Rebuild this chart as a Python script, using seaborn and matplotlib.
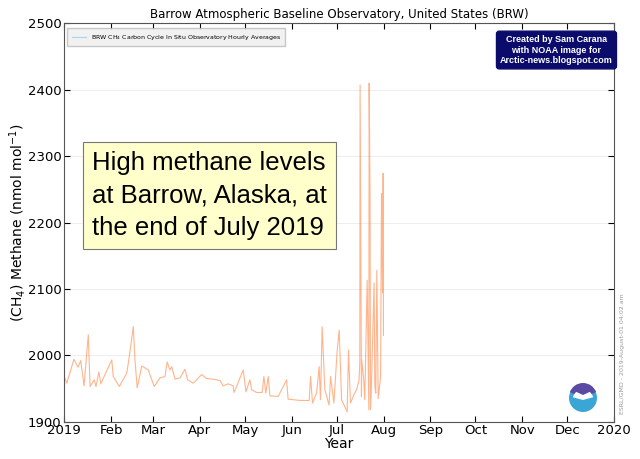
import pandas as pd
import matplotlib
matplotlib.use("Agg")
import matplotlib.pyplot as plt
import matplotlib.dates as mdates
from matplotlib.patches import Circle, Wedge
import seaborn as sns

# Days since 2019-01-01 and CH4 values (nmol/mol)
day_offsets = [
    0, 1.6, 6.4, 9.1, 10.9, 13.1, 15.9, 17.1, 19.9, 21, 23, 24.2,
    31.5, 32.5, 36.5, 41.4, 42.5, 45.8, 46.9, 48.4, 51.4, 55.7, 59.7,
    63.5, 66.8, 68.3, 70.1, 71.3, 73.5, 76.8, 80.1, 81.9, 85.6, 91.2,
    94.5, 99, 103.4, 105.5, 108.8, 112.1, 112.6, 114.4, 118.8, 120.6,
    123.2, 124.4, 127.7, 131.4, 132.5, 133.8, 135.4, 136.5, 142, 147.6,
    148.6, 156.4, 162.6, 163.5, 164.8, 167.5, 169.2, 170.1, 171.2, 173,
    175.8, 176.8, 179, 181.2, 182.5, 184.1, 187.8, 188.7, 190, 192.2,
    194, 195.7, 196.2, 196.4, 197.3, 197.5, 198.8, 199.5, 201.1, 202.2,
    202.4, 203, 203.3, 203.9, 205.7, 206.2, 206.8, 207.5, 208.4, 210,
    210.6, 211.3, 211.7, 211.9,
]
ch4_values = [
    1968, 1958, 1994, 1982, 1992, 1954, 2031, 1953, 1963, 1953, 1975, 1957,
    1993, 1968, 1953, 1973, 1988, 2043, 1993, 1951, 1984, 1978, 1953,
    1966, 1968, 1990, 1978, 1983, 1964, 1966, 1979, 1963, 1958, 1971,
    1965, 1964, 1962, 1954, 1957, 1954, 1944, 1953, 1978, 1945,
    1963, 1948, 1944, 1944, 1968, 1943, 1968, 1939, 1938, 1963,
    1934, 1932, 1932, 1968, 1928, 1943, 1983, 1933, 2043, 1948,
    1925, 1968, 1928, 2008, 2038, 1933, 1915, 2008, 1928, 1940,
    1948, 1963, 1988, 2407, 1938, 1993, 1963, 1933, 2113, 1918,
    2410, 2239, 1918, 1953, 2109, 1953, 1943, 2128, 1935, 1968,
    2244, 2094, 2274, 2030,
]

y_ticks = [1900, 2000, 2100, 2200, 2300, 2400, 2500]

df = pd.DataFrame({
    "date": pd.Timestamp("2019-01-01") + pd.to_timedelta(day_offsets, unit="D"),
    "ch4": ch4_values,
})

fig = plt.figure(figsize=(6.4, 4.59), dpi=100)
ax = fig.add_axes([0.1005, 0.0813, 0.8589, 0.8678])

sns.lineplot(
    data=df, x="date", y="ch4", ax=ax,
    color="#ff6a1a", alpha=0.5, linewidth=0.8,
    label="BRW CH$_4$ Carbon Cycle In Situ Observatory Hourly Averages",
)

ax.set_xlim(pd.Timestamp("2019-01-01"), pd.Timestamp("2020-01-01"))
ax.set_ylim(1900, 2500)
ax.set_yticks(y_ticks)
ax.xaxis.set_major_locator(mdates.MonthLocator())
ax.xaxis.set_major_formatter(mdates.ConciseDateFormatter(ax.xaxis.get_major_locator(),
                                                         formats=["%Y", "%b", "%d", "%H:%M", "%H:%M", "%S.%f"]))
ax.tick_params(direction="in", top=True, right=True, labelsize=9.5, length=4, pad=2)
ax.grid(axis="y", color="#eeeeee", linewidth=0.8)
for s in ax.spines.values():
    s.set_color("#555555")

ax.set_title("Barrow Atmospheric Baseline Observatory, United States (BRW)", fontsize=8.5, pad=4)
ax.set_xlabel("Year", fontsize=10, labelpad=0)
ax.set_ylabel("(CH$_4$) Methane (nmol mol$^{-1}$)", fontsize=10, labelpad=0)

leg = ax.legend(loc="upper left", fontsize=4.5, frameon=True, fancybox=False,
                borderpad=0.7, handlelength=2.2, bbox_to_anchor=(0.0, 0.995))
leg.get_frame().set_facecolor("#eeeeee")
leg.get_frame().set_edgecolor("#bbbbbb")
leg.get_lines()[0].set_color("#aad4ee")
leg.get_lines()[0].set_alpha(1)

# yellow annotation box
ax.text(0.05, 0.567, "High methane levels\nat Barrow, Alaska, at\nthe end of July 2019",
        transform=ax.transAxes, fontsize=18.5, family="Liberation Sans", va="center",
        linespacing=1.45,
        bbox=dict(boxstyle="square,pad=0.35", facecolor="#ffffcc", edgecolor="#777777", linewidth=0.8))

# credit box
fig.text(0.8695, 0.891, "Created by Sam Carana\nwith NOAA image for\nArctic-news.blogspot.com",
         fontsize=6.5, color="white", family=["Liberation Sans Narrow", "Liberation Sans"],
         fontweight="bold", ha="center", va="center", linespacing=1.25,
         bbox=dict(boxstyle="round,pad=0.4,rounding_size=0.3", facecolor="#0b0b6b", edgecolor="#0b0b6b"))

# side stamp
fig.text(0.973, 0.23, "ESRL/GMD - 2019-August-01 04:02 am", rotation=90, fontsize=4.5,
         color="#999999", ha="center", va="center")

# NOAA-like logo
cx, cy, r = 583, 459 - 398, 14
fig.patches.append(Circle((cx, cy), r, transform=None, facecolor="#39a6d6", edgecolor="none"))
fig.patches.append(Wedge((cx, cy + 1), r, 20, 160, transform=None, facecolor="#5a4aa3", edgecolor="none"))
fig.patches.append(Wedge((cx, cy - 2), r * 0.75, 15, 165, transform=None, facecolor="white", edgecolor="none"))
fig.patches.append(Wedge((cx, cy + 3), r * 0.6, 25, 155, transform=None, facecolor="#5a4aa3", edgecolor="none"))

fig.savefig("out.png", dpi=100)
